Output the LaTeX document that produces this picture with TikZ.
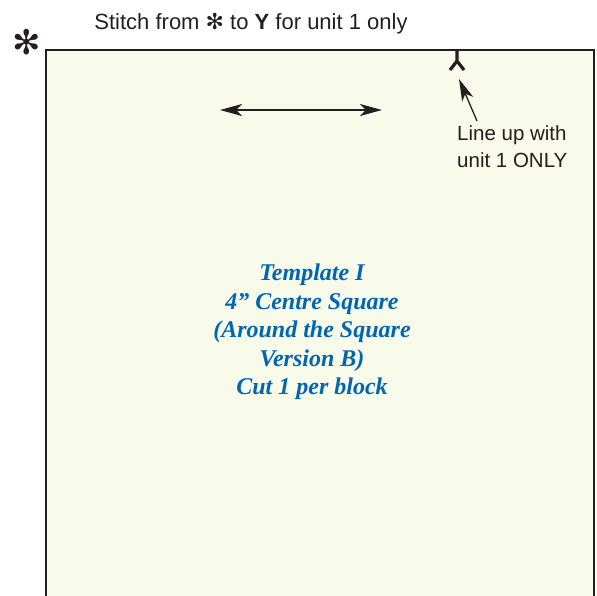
\documentclass[tikz,border=0pt]{standalone}
\usepackage{fontspec}
\setmainfont{Liberation Sans}
\newfontfamily\tmplfont{Liberation Serif}
\newfontfamily\symfont{DejaVu Sans}
\usetikzlibrary{arrows.meta, positioning}
\definecolor{paper}{RGB}{248,250,234}
\definecolor{edge}{RGB}{35,31,32}
\definecolor{tmplblue}{RGB}{0,102,179}

\begin{document}
\begin{tikzpicture}[x=1pt, y=-1pt, >={Stealth[length=22pt, width=12pt, inset=6pt]}, every node/.style={inner sep=0pt},
		note/.style={font=\fontsize{20.5}{27}\selectfont, align=left},
		tmpl/.style={font=\tmplfont\bfseries\itshape\fontsize{24}{28.5}\selectfont, text=tmplblue, align=center}]
		\useasboundingbox (0,0) rectangle (597,595);

		% template square, open at the bottom
		\fill[paper] (46,50) rectangle (594,600);
		\draw[edge, line width=2pt] (46,600) -- (46,50) -- (594,50) -- (594,600);

		\node[font=\symfont\fontsize{34}{34}\selectfont, text=edge]	(star) at (27,42) {✻};
		\node[font=\fontsize{22}{22}\selectfont, anchor=base, text=edge]	(title) at (251,29) {Stitch from {\symfont ✻} to \textbf{Y} for unit 1 only};

		% Y mark on the top edge
		\coordinate (ytop) at (457,50);
		\coordinate (yfork) at (457,61);
		\coordinate (yleft) at (450,70);
		\coordinate (yright) at (464,70);
		\draw[edge, line width=3.2pt] (ytop) -- (yfork) (yleft) -- (yfork) -- (yright);

		\node[note, anchor=north west, text=edge]	(lineup) at (457,125) {Line up with\\unit 1 ONLY};
		\coordinate (tail) at (477,121);
		\coordinate (tip) at (459,79);
		\draw[->, edge, line width=1.3pt] (tail) -- (tip);

		% grain line
		\coordinate (wl) at (220,110);
		\coordinate (wr) at (382,110);
		\draw[<->, edge, line width=1.6pt] (wl) -- (wr);

		\node[tmpl]	(name) at (312,332) {Template I\\4” Centre Square\\(Around the Square\\Version B)\\Cut 1 per block};
	\end{tikzpicture}
\end{document}
